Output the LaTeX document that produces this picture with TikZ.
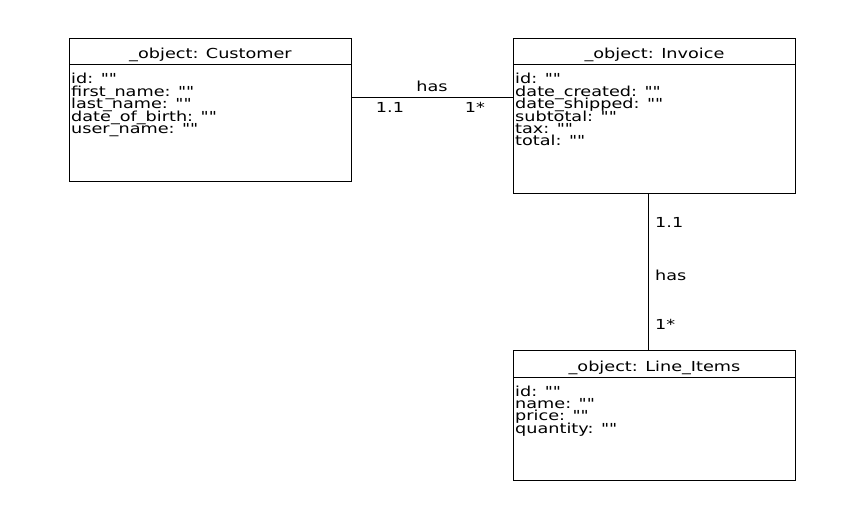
\documentclass[tikz,border=0pt]{standalone}
\usepackage{fontspec}
\setmainfont{DejaVu Sans}[FakeStretch=1.28, Ligatures=TeXOff]
\begin{document}
\begin{tikzpicture}[x=1pt,y=-1pt,
  font=\fontsize{13.8}{12.4}\selectfont,
  cls/.style={draw, line width=1pt, minimum width=282pt, inner sep=0pt, anchor=north west},
  attr/.style={anchor=base west, inner sep=0pt},
  ttl/.style={anchor=base, inner sep=0pt},
  lbl/.style={inner sep=0pt},
  conn/.style={line width=1pt}]
\useasboundingbox (0,0) rectangle (865,521);
% boxes
\node[cls, minimum height=143pt] (cust) at (69,38) {};
\node[cls, minimum height=155pt] (inv) at (513,38) {};
\node[cls, minimum height=130pt] (li) at (513,350) {};
% header separators
\foreach \b in {cust,inv,li}
  \draw[conn] ([yshift=-27pt]\b.north west) -- ([yshift=-27pt]\b.north east);
% titles
\node[ttl] (custT) at ([yshift=-21pt]cust.north) {\_object: Customer};
\node[ttl] (invT) at ([yshift=-21pt]inv.north) {\_object: Invoice};
\node[ttl] (liT) at ([yshift=-21pt]li.north) {\_object: Line\_Items};
% attributes
\foreach \t [count=\i] in {id: "", first\_name: "", last\_name: "", date\_of\_birth: "", user\_name: ""}
  \node[attr] (custA\i) at ([xshift=2pt, yshift={-46pt-(\i-1)*12.4pt}]cust.north west) {\t};
\foreach \t [count=\i] in {id: "", date\_created: "", date\_shipped: "", subtotal: "", tax: "", total: ""}
  \node[attr] (invA\i) at ([xshift=2pt, yshift={-46pt-(\i-1)*12.4pt}]inv.north west) {\t};
\foreach \t [count=\i] in {id: "", name: "", price: "", quantity: ""}
  \node[attr] (liA\i) at ([xshift=2pt, yshift={-46pt-(\i-1)*12.4pt}]li.north west) {\t};
% connectors
\coordinate (hy) at (0,98);
\draw[conn] (cust.east |- hy) -- (inv.west |- hy);
\node[lbl, anchor=base] (has1) at (432,92) {has};
\node[lbl, anchor=base] (m11) at (390,113) {1.1};
\node[lbl, anchor=base] (m12) at (475,113) {1*};
\coordinate (vx) at (648,0);
\draw[conn] (inv.south -| vx) -- (li.north -| vx);
\node[lbl, anchor=base west] (m21) at (655,228) {1.1};
\node[lbl, anchor=base west] (has2) at (655,281) {has};
\node[lbl, anchor=base west] (m22) at (655,330) {1*};
\end{tikzpicture}
\end{document}
